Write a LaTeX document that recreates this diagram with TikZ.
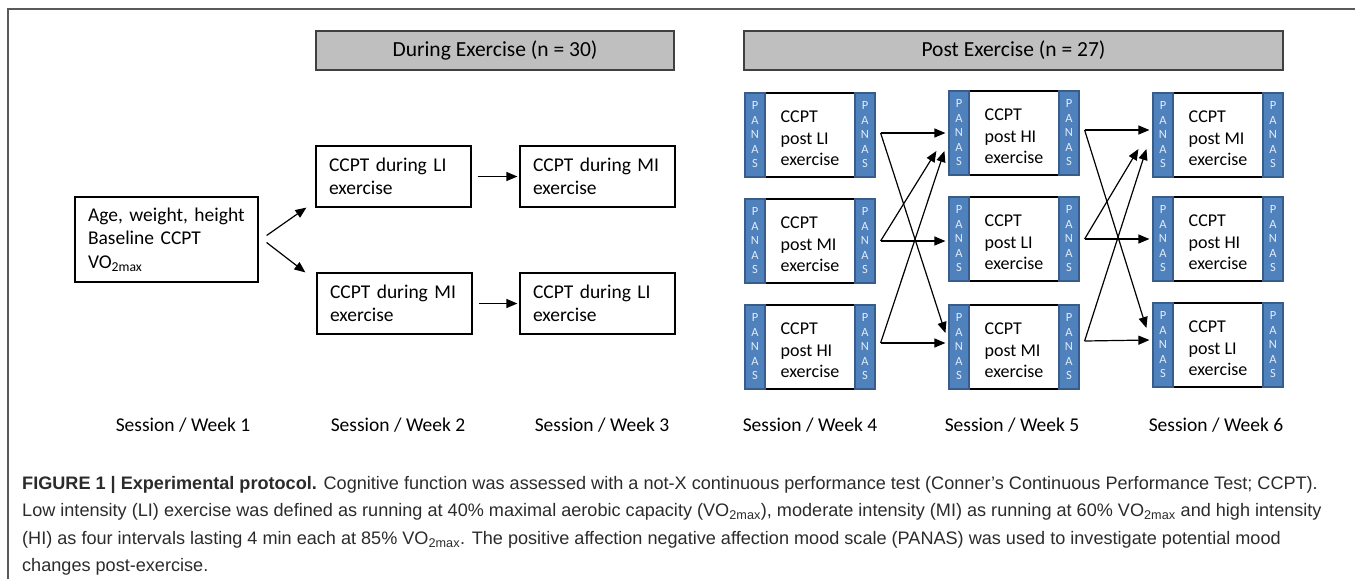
\documentclass[tikz,border=0pt]{standalone}
\usepackage{fontspec}
\setmainfont{Carlito}
\newfontfamily\capfont{Liberation Sans}
\usepackage{xcolor}
\usepackage{tikz}
\usetikzlibrary{positioning, arrows.meta, calc}

\definecolor{panasblue}{HTML}{4F81BD}
\definecolor{panasedge}{HTML}{385D8A}
\definecolor{headgray}{HTML}{BFBFBF}
\definecolor{headedge}{HTML}{404040}
\definecolor{framegray}{HTML}{5A5A5A}
\definecolor{captext}{HTML}{2B2B2B}

% PANAS box: name, left x, centre y, text
\newcommand{\panasbox}[4]{%
  \node[panasbody] (#1) at (#2+65,#3) {};
  \node[panastext] (#1t) at ($(#1)+(0,3.5)$) {#4};
  \node[panasstrip] (#1l) at (#2+10,#3) {P\\A\\N\\A\\S};
  \node[panasstrip] (#1r) at (#2+120,#3) {P\\A\\N\\A\\S};
}

\begin{document}
\begin{tikzpicture}[
    x=1pt, y=-1pt,
    header/.style={rectangle, draw=headedge, line width=2pt, fill=headgray, minimum height=39, inner sep=0, font=\fontsize{21.5}{25}\selectfont},
    basebox/.style={rectangle, draw, line width=1.2pt, minimum width=183, minimum height=85, text width=157, inner sep=0, align=left, font=\fontsize{19.5}{23.5}\selectfont},
    stagebox/.style={rectangle, draw, line width=1.2pt, minimum width=155, minimum height=61, text width=129, inner sep=0, align=left, font=\fontsize{19.5}{23.5}\selectfont},
    panasbody/.style={rectangle, draw, line width=1.2pt, fill=white, minimum width=90, minimum height=84, inner sep=0},
    panastext/.style={inner sep=0, align=left, font=\fontsize{18}{21.5}\selectfont},
    panasstrip/.style={rectangle, draw=panasedge, line width=1.2pt, fill=panasblue, minimum width=20, minimum height=84, inner sep=0, align=center, text=white!85!panasblue, font=\fontsize{12.5}{14.5}\selectfont},
    session/.style={font=\fontsize{19.5}{23.5}\selectfont},
    caption/.style={anchor=west, inner sep=0, text=captext, font=\capfont\fontsize{18.1}{21}\selectfont},
    flow/.style={draw, line width=1.2pt, -{Triangle[length=11pt, width=9pt]}}
]
    \useasboundingbox (0,0) rectangle (1355,579);

    % Frame
    \draw[framegray, line width=1.5pt] (8,579) -- (8,9) -- (1355,9);

    % Headers
    \node[header, minimum width=358] (during) at (495,50.5) {During Exercise (n = 30)};
    \node[header, minimum width=539] (post) at (1013.5,50.5) {Post Exercise (n = 27)};

    % Week 1 to 3
    \node[basebox] (base) at (166.5,239.5) {Age, weight, height\\Baseline CCPT\\VO\textsubscript{2max}};
    \node[stagebox] (dli) at (393.5,176.5) {CCPT during LI\\exercise};
    \node[stagebox] (dmi) at (597.5,176.5) {CCPT during MI\\exercise};
    \node[stagebox] (dmib) at (394.5,303.5) {CCPT during MI\\exercise};
    \node[stagebox] (dlib) at (597.5,303.5) {CCPT during LI\\exercise};

    % Week 4 to 6
    \panasbox{a4}{745}{135}{CCPT\\post LI\\exercise}
    \panasbox{b4}{745}{241}{CCPT\\post MI\\exercise}
    \panasbox{c4}{745}{347}{CCPT\\post HI\\exercise}
    \panasbox{a5}{949}{133}{CCPT\\post HI\\exercise}
    \panasbox{b5}{949}{239}{CCPT\\post LI\\exercise}
    \panasbox{c5}{949}{347}{CCPT\\post MI\\exercise}
    \panasbox{a6}{1153}{135}{CCPT\\post MI\\exercise}
    \panasbox{b6}{1153}{239}{CCPT\\post HI\\exercise}
    \panasbox{c6}{1153}{345}{CCPT\\post LI\\exercise}

    % Session labels
    \node[session] (s1) at (183,425) {Session / Week 1};
    \node[session] (s2) at (398,425) {Session / Week 2};
    \node[session] (s3) at (602,425) {Session / Week 3};
    \node[session] (s4) at (810,425) {Session / Week 4};
    \node[session] (s5) at (1012,425) {Session / Week 5};
    \node[session] (s6) at (1216,425) {Session / Week 6};

    % Edges - during exercise
    \draw[flow] ($(base.east)+(8,-4)$) -- ($(dli.south west)+(-9,0)$);
    \draw[flow] ($(base.east)+(8,3)$) -- ($(dmib.north west)+(-11,0)$);
    \draw[flow] ($(dli.east)+(6,0)$) -- ($(dmi.west)+(-2,0)$);
    \draw[flow] ($(dmib.east)+(6,0)$) -- ($(dlib.west)+(-2,0)$);

    % Edges - week 4 to week 5
    \draw[flow] ($(a4r.east)+(5,-2)$) -- ($(a5l.west)+(-3,0)$);
    \draw[flow] ($(a4r.east)+(5,-2)$) -- ($(c5l.west)+(-3,-14)$);
    \draw[flow] ($(b4r.east)+(5,0)$) -- ($(b5l.west)+(-3,2)$);
    \draw[flow] ($(b4r.east)+(5,0)$) -- ($(a5l.west)+(-12,18)$);
    \draw[flow] ($(c4r.east)+(5,-4)$) -- ($(c5l.west)+(-3,-4)$);
    \draw[flow] ($(c4r.east)+(5,-4)$) -- ($(a5l.west)+(-4,18)$);

    % Edges - week 5 to week 6
    \draw[flow] ($(a5r.east)+(5,-3)$) -- ($(a6l.west)+(-3,-5)$);
    \draw[flow] ($(a5r.east)+(5,-3)$) -- ($(c6l.west)+(-6,-17)$);
    \draw[flow] ($(b5r.east)+(5,0)$) -- ($(b6l.west)+(-3,0)$);
    \draw[flow] ($(b5r.east)+(5,0)$) -- ($(a6l.west)+(-14,14)$);
    \draw[flow] ($(c5r.east)+(5,-6)$) -- ($(c6l.west)+(-3,-5)$);
    \draw[flow] ($(c5r.east)+(5,-6)$) -- ($(a6l.west)+(-6,14)$);

    % Caption
    \node[caption] (cap1) at (22,485) {\textbf{FIGURE 1 | Experimental protocol.} Cognitive function was assessed with a not-X continuous performance test (Conner’s Continuous Performance Test; CCPT).};
    \node[caption] (cap2) at (22,512) {Low intensity (LI) exercise was defined as running at 40\% maximal aerobic capacity (VO\textsubscript{2max}), moderate intensity (MI) as running at 60\% VO\textsubscript{2max} and high intensity};
    \node[caption] (cap3) at (22,540) {(HI) as four intervals lasting 4 min each at 85\% VO\textsubscript{2max}. The positive affection negative affection mood scale (PANAS) was used to investigate potential mood};
    \node[caption] (cap4) at (22,567) {changes post-exercise.};

\end{tikzpicture}
\end{document}
